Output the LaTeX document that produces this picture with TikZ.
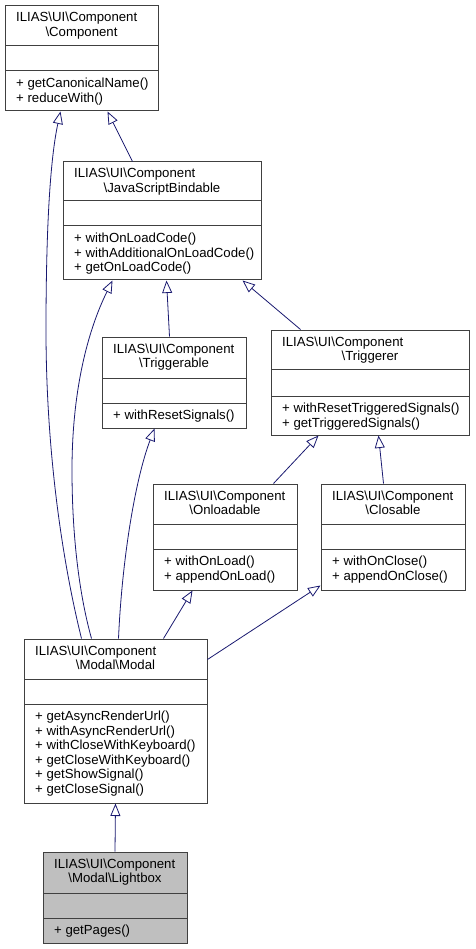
\documentclass[tikz,border=0pt]{standalone}
\usepackage{fontspec}
\setmainfont{Liberation Sans}
\usetikzlibrary{arrows.meta}
\definecolor{edgeblue}{HTML}{191970}
\definecolor{boxline}{HTML}{404040}
\definecolor{curfill}{HTML}{BFBFBF}
\tikzset{
  clsrect/.style={draw=boxline, line width=1pt, inner sep=0pt, rectangle},
  sepline/.style={draw=boxline, line width=1pt},
  txt/.style={inner sep=0pt, font=\fontsize{13.2}{14.6}\selectfont},
  inherit/.style={draw=edgeblue, line width=0.8pt,
    -{Triangle[length=12.5pt, width=10pt, fill=white]}},
}
% #1 name #2 left #3 top #4 right #5 bottom #6 sep1 #7 sep2 #8 fill
\newcommand{\umlclass}[8]{%
  \node[clsrect, fill=#8, minimum width={(#4-#2)*1pt}, minimum height={(#5-#3)*1pt}]
    (#1) at ({(#2+#4)/2},{(#3+#5)/2}) {};
  \draw[sepline] (#2,#6) -- (#4,#6);
  \draw[sepline] (#2,#7) -- (#4,#7);
}
% #1 name #2 left #3 top #4 right #5 second title line
\newcommand{\umltitle}[5]{%
  \node[txt, anchor=base west] (#1-t1) at ({#2+11},{#3+16}) {ILIAS\textbackslash UI\textbackslash Component};
  \node[txt, anchor=base] (#1-t2) at ({(#2+#4)/2},{#3+30.6}) {#5};
}
% #1 name #2 left #3 sep2 #4 list
\newcommand{\umlmethods}[4]{%
  \foreach \m [count=\i] in {#4} {
    \node[txt, anchor=base west] (#1-m\i) at ({#2+11},{#3+16.5+(\i-1)*14.6}) {+ \m};
  }
}
\begin{document}
\begin{tikzpicture}[x=1pt, y=-1pt]
\useasboundingbox[fill=white] (0,0) rectangle (475,949);

% Component
\umlclass{comp}{5}{6}{158}{111}{46}{71}{white}
\umltitle{comp}{5}{6}{158}{\textbackslash Component}
\umlmethods{comp}{5}{71}{getCanonicalName(), reduceWith()}

% JavaScriptBindable
\umlclass{jsb}{63}{162}{261}{280}{201}{226}{white}
\umltitle{jsb}{63}{162}{261}{\textbackslash JavaScriptBindable}
\umlmethods{jsb}{63}{226}{withOnLoadCode(), withAdditionalOnLoadCode(), getOnLoadCode()}

% Triggerable
\umlclass{tgb}{102}{337}{246}{428}{378}{403}{white}
\umltitle{tgb}{102}{337}{246}{\textbackslash Triggerable}
\umlmethods{tgb}{102}{403}{withResetSignals()}

% Triggerer
\umlclass{tgr}{271}{330}{469}{435}{369}{396}{white}
\umltitle{tgr}{271}{330}{469}{\textbackslash Triggerer}
\umlmethods{tgr}{271}{396}{withResetTriggeredSignals(), getTriggeredSignals()}

% Onloadable
\umlclass{onl}{153}{484}{297}{590}{524}{549}{white}
\umltitle{onl}{153}{484}{297}{\textbackslash Onloadable}
\umlmethods{onl}{153}{549}{withOnLoad(), appendOnLoad()}

% Closable
\umlclass{clo}{321}{484}{465}{590}{524}{549}{white}
\umltitle{clo}{321}{484}{465}{\textbackslash Closable}
\umlmethods{clo}{321}{549}{withOnClose(), appendOnClose()}

% Modal
\umlclass{mod}{24}{639}{207}{803}{679}{704}{white}
\umltitle{mod}{24}{639}{207}{\textbackslash Modal\textbackslash Modal}
\umlmethods{mod}{24}{704}{getAsyncRenderUrl(), withAsyncRenderUrl(), withCloseWithKeyboard(), getCloseWithKeyboard(), getShowSignal(), getCloseSignal()}

% Lightbox
\umlclass{lig}{43}{852}{187}{943}{893}{918}{curfill}
\umltitle{lig}{43}{852}{187}{\textbackslash Modal\textbackslash Lightbox}
\umlmethods{lig}{43}{918}{getPages()}

% Inheritance edges
\draw[inherit] ([xshift=70pt]jsb.north west) -- ([xshift=103pt]comp.south west);
\draw[inherit] ([xshift=68pt]tgb.north west) -- ([xshift=104pt]jsb.south west);
\draw[inherit] ([xshift=30pt]tgr.north west) -- ([xshift=180pt]jsb.south west);
\draw[inherit] ([xshift=121pt]onl.north west) -- ([xshift=48pt]tgr.south west);
\draw[inherit] ([xshift=63pt]clo.north west) -- ([xshift=108pt]tgr.south west);
\draw[inherit] ([xshift=140pt]mod.north west) -- ([xshift=40pt]onl.south west);
\draw[inherit] ([yshift=-21pt]mod.north east) -- ([yshift=5pt]clo.south west);
\draw[inherit] (lig.north) -- (mod.south);
\draw[inherit] ([xshift=58pt]mod.north west)
   .. controls (62,560) and (46,450) .. (46,330)
   .. controls (46,230) and (50,160) .. ([xshift=56pt]comp.south west);
\draw[inherit] ([xshift=68pt]mod.north west)
   .. controls (78,590) and (72,530) .. (72,470)
   .. controls (72,390) and (88,330) .. ([xshift=50pt]jsb.south west);
\draw[inherit] ([xshift=95pt]mod.north west)
   .. controls (122,560) and (135,480) .. ([xshift=53pt]tgb.south west);
\end{tikzpicture}
\end{document}
